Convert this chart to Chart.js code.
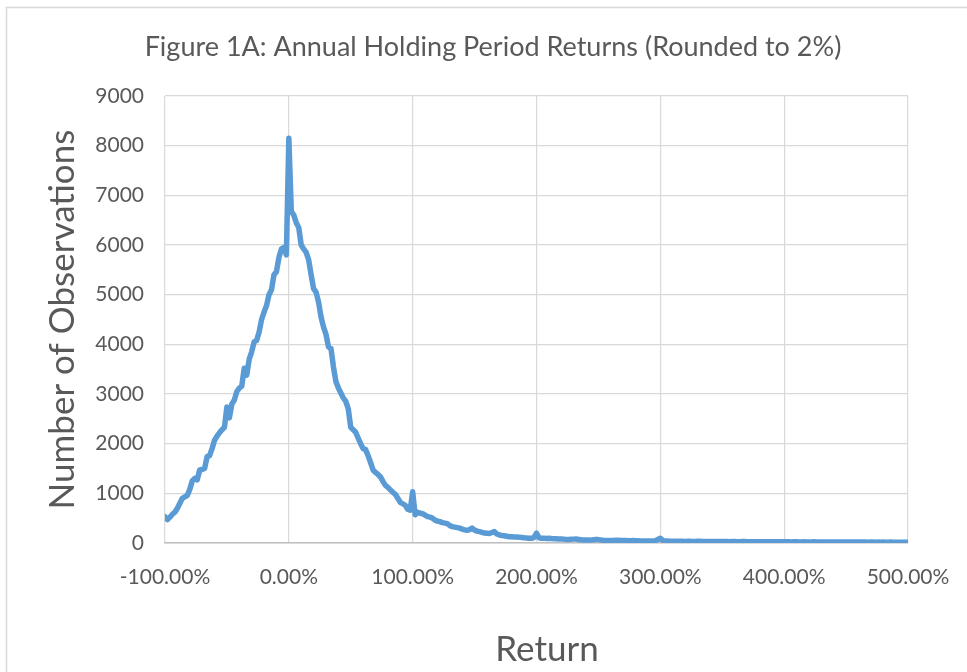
<!DOCTYPE html>
<html>
<head>
<meta charset="utf-8">
<script src="https://cdn.jsdelivr.net/npm/chart.js@4.4.1/dist/chart.umd.min.js"></script>
<style>
  html, body { margin: 0; padding: 0; background: #fff; }
  #wrap { width: 967px; height: 672px; }
</style>
</head>
<body>
<div id="wrap"><canvas id="returns-chart" width="967" height="672"></canvas></div>
<script>
// Returns are binned to 2%, from -100% up to 500%
const returnStart = -100;
const returnStep = 2;

// number of observations per bin (10 bins a row)
const observations = [
    530, 470, 520, 580, 620, 700, 800, 900, 930, 960,          // -100 .. -82
    1080, 1250, 1300, 1270, 1470, 1480, 1500, 1740, 1760, 1900, // -80 .. -62
    2070, 2150, 2220, 2280, 2330, 2740, 2520, 2800, 2880, 3050, // -60 .. -42
    3120, 3160, 3520, 3380, 3700, 3850, 4050, 4080, 4250, 4500, // -40 .. -22
    4650, 4780, 5000, 5100, 5400, 5460, 5750, 5920, 5950, 5800, // -20 .. -2
    8150, 6680, 6600, 6450, 6350, 6000, 5920, 5850, 5700, 5400, // 0 .. 18
    5120, 5050, 4850, 4550, 4350, 4200, 3950, 3920, 3550, 3250, // 20 .. 38
    3120, 3020, 2920, 2850, 2700, 2330, 2280, 2230, 2110, 2000, // 40 .. 58
    1900, 1880, 1760, 1620, 1470, 1420, 1380, 1330, 1240, 1160, // 60 .. 78
    1120, 1070, 1020, 980, 900, 820, 790, 760, 680, 660,        // 80 .. 98
    1030, 570, 620, 600, 590, 560, 530, 520, 500, 460,          // 100 .. 118
    440, 430, 410, 400, 390, 350, 330, 320, 310, 300,           // 120 .. 138
    280, 265, 255, 270, 300, 260, 240, 230, 215, 200,           // 140 .. 158
    195, 190, 210, 230, 180, 160, 150, 145, 135, 127,           // 160 .. 178
    125, 122, 120, 118, 112, 105, 100, 95, 95, 110,             // 180 .. 198
    200, 105, 95, 98, 92, 95, 90, 88, 85, 80,                   // 200 .. 218
    82, 78, 72, 70, 75, 78, 80, 72, 65, 62,                     // 220 .. 238
    60, 62, 58, 65, 70, 68, 60, 55, 52, 50,                     // 240 .. 258
    48, 50, 55, 55, 52, 50, 48, 46, 45, 50,                     // 260 .. 278
    46, 44, 42, 40, 42, 40, 38, 40, 45, 70,                     // 280 .. 298
    95, 48, 40, 38, 36, 35, 36, 34, 33, 35,                     // 300 .. 318
    32, 34, 33, 31, 32, 35, 33, 30, 31, 32,                     // 320 .. 338
    30, 29, 31, 30, 28, 32, 29, 28, 27, 29,                     // 340 .. 358
    28, 27, 26, 28, 30, 27, 26, 25, 27, 26,                     // 360 .. 378
    25, 26, 24, 25, 27, 24, 23, 25, 24, 23,                     // 380 .. 398
    24, 25, 23, 22, 24, 23, 22, 21, 23, 22,                     // 400 .. 418
    21, 22, 23, 21, 20, 22, 21, 20, 19, 21,                     // 420 .. 438
    20, 21, 19, 20, 22, 20, 19, 18, 20, 19,                     // 440 .. 458
    18, 19, 20, 18, 17, 19, 18, 17, 18, 17,                     // 460 .. 478
    18, 17, 16, 18, 17, 16, 17, 16, 15, 17,                     // 480 .. 498
    16                                                          // 500
];

const xTicks = [-100, 0, 100, 200, 300, 400, 500];
const yTicks = [0, 1000, 2000, 3000, 4000, 5000, 6000, 7000, 8000, 9000];

const chartTitle = "Figure 1A: Annual Holding Period Returns (Rounded to 2%)";
const xTitle = "Return";
const yTitle = "Number of Observations";

const fontFamily = "Lato, 'Noto Sans', sans-serif";
const textColor = "#595959";

function getPoints() {
    let points = [];
    observations.forEach(function (count, index) {
        points.push({x: returnStart + index * returnStep, y: count});
    });
    return points;
}

// white background, the outer frame and the texts drawn outside the axes
const frameAndTitles = {
    id: "frameAndTitles",
    beforeDraw(chart) {
        const ctx = chart.ctx;
        ctx.save();
        ctx.fillStyle = "#ffffff";
        ctx.fillRect(0, 0, chart.width, chart.height);
        ctx.strokeStyle = "#d9d9d9";
        ctx.lineWidth = 1.5;
        ctx.strokeRect(6.5, 7.5, 1100, 1100);
        ctx.restore();
    },
    afterDraw(chart) {
        const ctx = chart.ctx;
        ctx.save();
        ctx.fillStyle = textColor;
        ctx.textAlign = "center";
        ctx.textBaseline = "middle";
        ctx.font = "27px " + fontFamily;
        ctx.fillText(chartTitle, 493, 47);
        ctx.font = "35px " + fontFamily;
        ctx.fillText(xTitle, 547, 650);
        ctx.restore();
    }
};

let returnsChart = new Chart("returns-chart", {
    type: "line",
    data: {
        datasets: [{
            label: "Observations",
            data: getPoints(),
            borderColor: "#5b9bd5",
            borderWidth: 5.5,
            borderJoinStyle: "round",
            borderCapStyle: "round",
            pointRadius: 0,
            fill: false,
            tension: 0
        }]
    },
    options: {
        responsive: false,
        animation: false,
        layout: {
            padding: {left: 6, right: 59, top: 96, bottom: 0}
        },
        plugins: {
            legend: {display: false},
            title: {display: false},
            tooltip: {enabled: false}
        },
        scales: {
            x: {
                type: "linear",
                min: -100,
                max: 500,
                afterBuildTicks(scale) {
                    scale.ticks = xTicks.map(v => ({value: v}));
                },
                afterFit(scale) {
                    scale.height = 672 - 543;
                    scale.paddingLeft = 0;
                    scale.paddingRight = 0;
                },
                grid: {
                    color: "#d9d9d9",
                    lineWidth: 1.2,
                    drawTicks: false
                },
                border: {color: "#bfbfbf", width: 1.5},
                ticks: {
                    padding: 22,
                    color: textColor,
                    font: {family: fontFamily, size: 21},
                    maxRotation: 0,
                    callback: function (value) {
                        return value.toFixed(2) + "%";
                    }
                }
            },
            y: {
                min: 0,
                max: 9000,
                afterBuildTicks(scale) {
                    scale.ticks = yTicks.map(v => ({value: v}));
                },
                afterFit(scale) {
                    scale.width = 165 - 6;
                },
                grid: {
                    color: "#d9d9d9",
                    lineWidth: 1.2,
                    drawTicks: false
                },
                border: {display: false},
                ticks: {
                    padding: 21,
                    color: textColor,
                    font: {family: fontFamily, size: 21},
                    callback: function (value) {
                        return String(value);
                    }
                },
                title: {
                    display: true,
                    text: yTitle,
                    color: textColor,
                    font: {family: fontFamily, size: 35},
                    padding: {top: 36, bottom: 0}
                }
            }
        }
    },
    plugins: [frameAndTitles]
});
</script>
</body>
</html>
